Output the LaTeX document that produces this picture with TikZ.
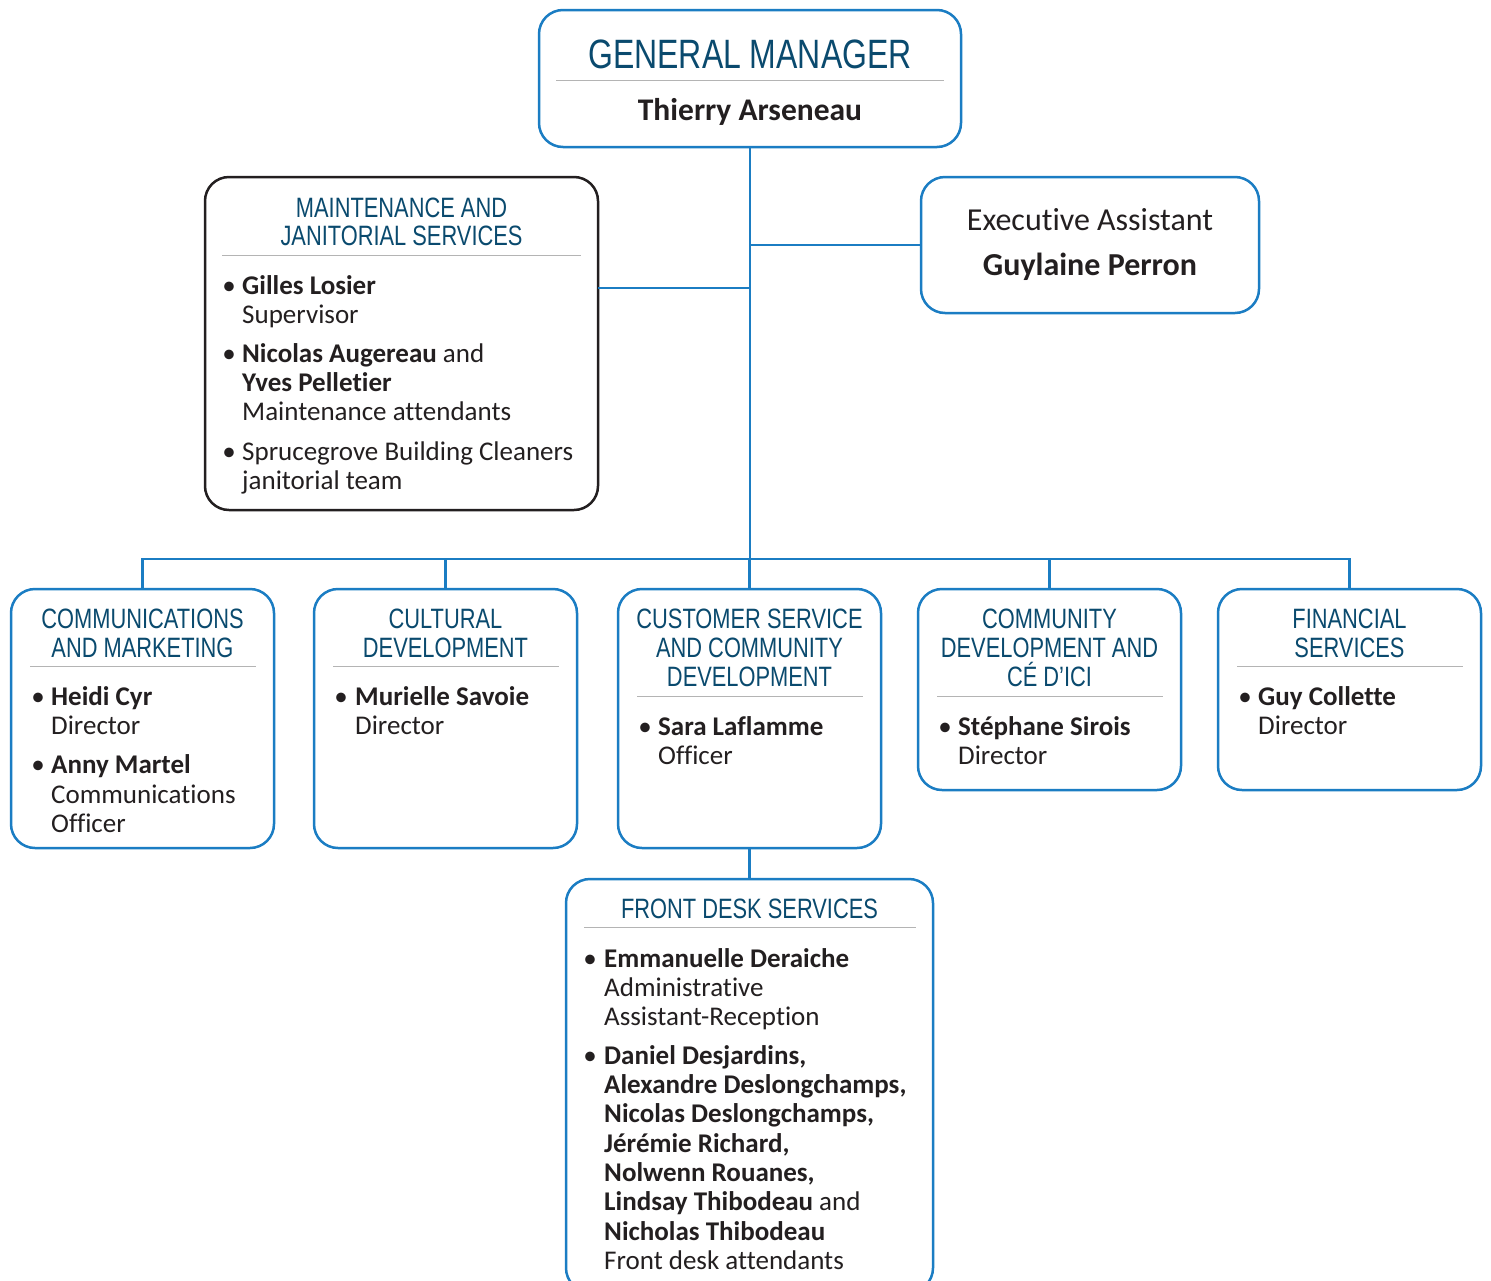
\documentclass[tikz,border=0pt]{standalone}
\usepackage{fontspec}
\setmainfont[Ligatures=NoCommon]{Carlito}
\newfontfamily\headfont[FakeStretch=0.78]{Liberation Sans}
\definecolor{boxblue}{HTML}{1B7DC3}
\definecolor{headblue}{HTML}{0A4A6E}
\definecolor{textblack}{HTML}{231F20}
\definecolor{sepgray}{HTML}{B4B4B4}
\newcommand\bodyfont{\fontsize{27}{29}\selectfont}
\newcommand\hdfont{\headfont\fontsize{28}{28}\selectfont}
\begin{document}
\begin{tikzpicture}[x=1pt,y=-1pt,
  bbox/.style={draw=boxblue, line width=2.5pt, rounded corners=24pt, inner sep=0pt},
  kbox/.style={draw=textblack, line width=2.5pt, rounded corners=24pt, inner sep=0pt},
  conn/.style={draw=boxblue, line width=2.5pt},
  sepline/.style={draw=sepgray, line width=1pt},
  hd/.style={anchor=base, inner sep=0pt, text=headblue, font=\hdfont},
  txt/.style={anchor=base west, inner sep=0pt, text=textblack, font=\bodyfont},
  bul/.style={anchor=base, inner sep=0pt, text=textblack, font=\bodyfont},
]
\useasboundingbox (0,0) rectangle (1491,1280);
\clip (0,0) rectangle (1491,1280);
\fill[white] (0,0) rectangle (1491,1280);

% ---------- boxes
\node[bbox, minimum width=422, minimum height=137] (gm) at (750,78.5) {};
\node[bbox, minimum width=338, minimum height=136] (ea) at (1090,245) {};
\node[kbox, minimum width=393, minimum height=333] (mj) at (401.5,343.5) {};
\node[bbox, minimum width=263, minimum height=259] (c1) at (142.5,718.5) {};
\node[bbox, minimum width=263, minimum height=259] (c2) at (445.5,718.5) {};
\node[bbox, minimum width=263, minimum height=259] (c3) at (749.5,718.5) {};
\node[bbox, minimum width=263, minimum height=201] (c4) at (1049.5,689.5) {};
\node[bbox, minimum width=263, minimum height=201] (c5) at (1349.5,689.5) {};
\node[bbox, minimum width=367, minimum height=413] (fd) at (749.5,1085.5) {};

% ---------- connectors
\coordinate (bus) at (750,559);
\coordinate (mjc) at (598,288);
\draw[conn] (gm.south) -- (bus);
\draw[conn] (ea.west) -- (gm.south |- ea.west);
\draw[conn] (mjc) -- (gm.south |- mjc);
\draw[conn] (c1.north) |- (c5.north |- bus) -- (c5.north);
\draw[conn] (c2.north) -- (c2.north |- bus);
\draw[conn] (c3.north) -- (c3.north |- bus);
\draw[conn] (c4.north) -- (c4.north |- bus);
\draw[conn] (c3.south) -- (fd.north);

% ---------- general manager
\node[hd, font=\headfont\fontsize{41}{41}\selectfont] (gmh) at (750,68) {GENERAL MANAGER};
\draw[sepline] (556,80) -- (944,80);
\node[bul, anchor=base, font=\fontsize{31.5}{31.5}\selectfont\bfseries] (gmn) at (750,120) {Thierry Arseneau};

% ---------- executive assistant
\node[bul, anchor=base, font=\fontsize{32}{32}\selectfont] (eah) at (1090,230) {Executive Assistant};
\node[bul, anchor=base, font=\fontsize{32}{32}\selectfont\bfseries] (ean) at (1090,275) {Guylaine Perron};

% ---------- maintenance
\node[hd] (mjh1) at (401.5,217) {MAINTENANCE AND};
\node[hd] (mjh2) at (401.5,245) {JANITORIAL SERVICES};
\draw[sepline] (222,255) -- (581,255);
\node[bul] (mjb1) at (229,294) {•};
\node[txt] (mjt1) at (242,294) {\textbf{Gilles Losier}};
\node[txt] (mjt2) at (242,323) {Supervisor};
\node[bul] (mjb2) at (229,362) {•};
\node[txt] (mjt3) at (242,362) {\textbf{Nicolas Augereau} and};
\node[txt] (mjt4) at (242,391) {\textbf{Yves Pelletier}};
\node[txt] (mjt5) at (242,420.5) {Maintenance attendants};
\node[bul] (mjb3) at (229,460) {•};
\node[txt] (mjt6) at (242,460) {Sprucegrove Building Cleaners};
\node[txt] (mjt7) at (242,489) {janitorial team};

% ---------- communications
\node[hd] (c1h1) at (142.5,628) {COMMUNICATIONS};
\node[hd] (c1h2) at (142.5,657) {AND MARKETING};
\draw[sepline] (30,666) -- (256,666);
\node[bul] (c1b1) at (38,705) {•};
\node[txt] (c1t1) at (51,705) {\textbf{Heidi Cyr}};
\node[txt] (c1t2) at (51,734) {Director};
\node[bul] (c1b2) at (38,773) {•};
\node[txt] (c1t3) at (51,773) {\textbf{Anny Martel}};
\node[txt] (c1t4) at (51,803) {Communications};
\node[txt] (c1t5) at (51,832) {Officer};

% ---------- cultural
\node[hd] (c2h1) at (445.5,628) {CULTURAL};
\node[hd] (c2h2) at (445.5,657) {DEVELOPMENT};
\draw[sepline] (333,666) -- (559,666);
\node[bul] (c2b1) at (341,705) {•};
\node[txt] (c2t1) at (355,705) {\textbf{Murielle Savoie}};
\node[txt] (c2t2) at (355,734) {Director};

% ---------- customer service
\node[hd] (c3h1) at (749.5,628) {CUSTOMER SERVICE};
\node[hd] (c3h2) at (749.5,657) {AND COMMUNITY};
\node[hd] (c3h3) at (749.5,686) {DEVELOPMENT};
\draw[sepline] (637,696) -- (863,696);
\node[bul] (c3b1) at (645,735) {•};
\node[txt] (c3t1) at (658,735) {\textbf{Sara Laflamme}};
\node[txt] (c3t2) at (658,764) {Officer};

% ---------- community development
\node[hd] (c4h1) at (1049.5,628) {COMMUNITY};
\node[hd] (c4h2) at (1049.5,657) {DEVELOPMENT AND};
\node[hd] (c4h3) at (1049.5,686) {CÉ D’ICI};
\draw[sepline] (937,696) -- (1163,696);
\node[bul] (c4b1) at (945,735) {•};
\node[txt] (c4t1) at (958,735) {\textbf{Stéphane Sirois}};
\node[txt] (c4t2) at (958,764) {Director};

% ---------- financial
\node[hd] (c5h1) at (1349.5,628) {FINANCIAL};
\node[hd] (c5h2) at (1349.5,657) {SERVICES};
\draw[sepline] (1237,666) -- (1463,666);
\node[bul] (c5b1) at (1245,705) {•};
\node[txt] (c5t1) at (1258,705) {\textbf{Guy Collette}};
\node[txt] (c5t2) at (1258,734) {Director};

% ---------- front desk
\node[hd] (fdh) at (749.5,918) {FRONT DESK SERVICES};
\draw[sepline] (584,927) -- (916,927);
\node[bul] (fdb1) at (590,967) {•};
\node[txt] (fdt1) at (604,967) {\textbf{Emmanuelle Deraiche}};
\node[txt] (fdt2) at (604,996) {Administrative};
\node[txt] (fdt3) at (604,1025) {Assistant-Reception};
\node[bul] (fdb2) at (590,1064) {•};
\node[txt] (fdt4) at (604,1064) {\textbf{Daniel Desjardins,}};
\node[txt] (fdt5) at (604,1093.3) {\textbf{Alexandre Deslongchamps,}};
\node[txt] (fdt6) at (604,1122.6) {\textbf{Nicolas Deslongchamps,}};
\node[txt] (fdt7) at (604,1152) {\textbf{Jérémie Richard,}};
\node[txt] (fdt8) at (604,1181.2) {\textbf{Nolwenn Rouanes,}};
\node[txt] (fdt9) at (604,1210.5) {\textbf{Lindsay Thibodeau} and};
\node[txt] (fdt10) at (604,1240) {\textbf{Nicholas Thibodeau}};
\node[txt] (fdt11) at (604,1269) {Front desk attendants};
\end{tikzpicture}
\end{document}
